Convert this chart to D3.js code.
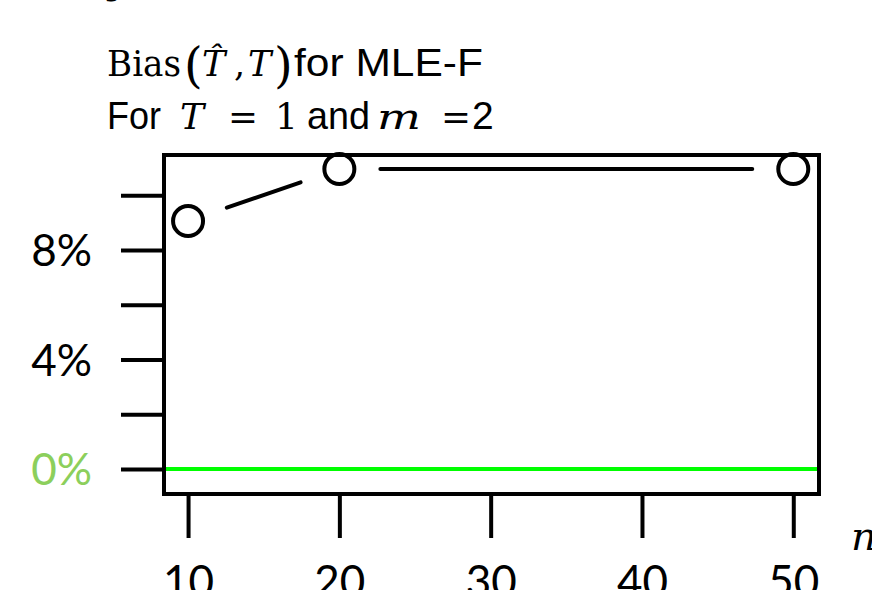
<!DOCTYPE html>
<html>
<head>
<meta charset="utf-8">
<script src="https://d3js.org/d3.v7.min.js"></script>
<style>
  body { margin: 0; background: #fff; }
  svg { display: block; }
</style>
</head>
<body>
<svg width="872" height="590"></svg>
<script>
// values
const sampleSizes = [10, 20, 50];
const biasPct = [9.06, 10.96, 10.96];
const xTicks = [10, 20, 30, 40, 50];
const yTicks = [0, 2, 4, 6, 8, 10];
const yLabelled = [0, 4, 8];

const svg = d3.select("svg");
const box = {left: 164, right: 819, top: 155, bottom: 494};

const x = d3.scaleLinear().domain([8.41, 51.7]).range([box.left, box.right]);
const y = d3.scaleLinear().domain([-0.91, 11.47]).range([box.bottom, box.top]);

const serif = "'DejaVu Serif', 'Liberation Serif', serif";
const sans = "'Liberation Sans', Arial, sans-serif";
const tickFont = "Lato, 'Open Sans', sans-serif";

// clipped glyph at the very top
svg.append("text")
    .attr("x", 108).attr("y", -6)
    .attr("font-family", serif).attr("font-style", "italic")
    .attr("font-size", 36)
    .text("y");

// title pieces: [text, x, font, size, italic, baseline shift, width]
const titleLine1 = [
  ["Bias", 107, serif, 35, false, 0, 74],
  ["(", 184, serif, 48, false, 6, null],
  ["T\u0302", 202, serif, 35, true, 0, null],
  [",", 234, serif, 35, false, 0, null],
  ["T", 248, serif, 35, true, 0, null],
  [")", 274, serif, 48, false, 6, null],
  ["for MLE-F", 294, sans, 39, false, 0, 189]
];
const titleLine2 = [
  ["For", 107, sans, 39, false, 0, 54],
  ["T", 180, serif, 36, true, 0, null],
  ["=", 228, serif, 36, false, 0, 30],
  ["1", 275, serif, 36, false, 0, null],
  ["and", 307, sans, 39, false, 0, 63],
  ["m", 377, serif, 36, true, 0, 44],
  ["=", 441, serif, 36, false, 0, 30],
  ["2", 472, sans, 39, false, 0, null]
];
function drawTitleLine(pieces, baseline) {
  svg.append("g").selectAll("text").data(pieces).join("text")
      .attr("x", d => d[1])
      .attr("y", d => baseline + d[5])
      .attr("font-family", d => d[2])
      .attr("font-size", d => d[3])
      .attr("font-style", d => d[4] ? "italic" : "normal")
      .each(function(d) {
        if (d[6]) d3.select(this).attr("textLength", d[6]).attr("lengthAdjust", "spacingAndGlyphs");
      })
      .text(d => d[0]);
}
drawTitleLine(titleLine1, 76);
drawTitleLine(titleLine2, 129);

// zero reference line
svg.append("line")
    .attr("x1", box.left).attr("x2", box.right)
    .attr("y1", y(0)).attr("y2", y(0))
    .attr("stroke", "#00ff00").attr("stroke-width", 4);

// plot box
svg.append("rect")
    .attr("x", box.left).attr("y", box.top)
    .attr("width", box.right - box.left).attr("height", box.bottom - box.top)
    .attr("fill", "none").attr("stroke", "#000").attr("stroke-width", 4);

// y axis
const yAxis = svg.append("g")
    .attr("transform", `translate(${box.left},0)`)
    .call(d3.axisLeft(y).tickValues(yTicks).tickSize(43).tickPadding(29)
        .tickFormat(d => yLabelled.includes(d) ? d + "%" : ""));
yAxis.select(".domain").remove();
yAxis.selectAll(".tick line").attr("stroke", "#000").attr("stroke-width", 4);
yAxis.selectAll(".tick text")
    .attr("font-family", tickFont).attr("font-size", 44)
    .attr("dy", "0.36em")
    .attr("fill", d => d === 0 ? "#8ccf5c" : "#000");

// x axis
const xAxis = svg.append("g")
    .attr("transform", `translate(0,${box.bottom + 2})`)
    .call(d3.axisBottom(x).tickValues(xTicks).tickSize(42).tickPadding(0));
xAxis.select(".domain").remove();
xAxis.selectAll(".tick line").attr("stroke", "#000").attr("stroke-width", 4);
xAxis.selectAll(".tick text")
    .attr("font-family", tickFont).attr("font-size", 44)
    .attr("fill", "#000")
    .attr("y", 101).attr("dy", 0);

svg.append("text")
    .attr("x", 851).attr("y", 550)
    .attr("font-family", serif).attr("font-style", "italic").attr("font-size", 40)
    .text("n");

// points with gapped connecting segments (R type "b")
const pts = sampleSizes.map((n, i) => [x(n), y(biasPct[i])]);
const gap = 41;
const segs = d3.pairs(pts).map(([a, b]) => {
  const dx = b[0] - a[0], dy = b[1] - a[1];
  const len = Math.hypot(dx, dy);
  const ux = dx / len, uy = dy / len;
  return [a[0] + ux * gap, a[1] + uy * gap, b[0] - ux * gap, b[1] - uy * gap];
});
svg.append("g").selectAll("line").data(segs).join("line")
    .attr("x1", d => d[0]).attr("y1", d => d[1])
    .attr("x2", d => d[2]).attr("y2", d => d[3])
    .attr("stroke", "#000").attr("stroke-width", 4).attr("stroke-linecap", "round");

svg.append("g").selectAll("circle").data(pts).join("circle")
    .attr("cx", d => d[0]).attr("cy", d => d[1]).attr("r", 15)
    .attr("fill", "none").attr("stroke", "#000").attr("stroke-width", 4);
</script>
</body>
</html>
